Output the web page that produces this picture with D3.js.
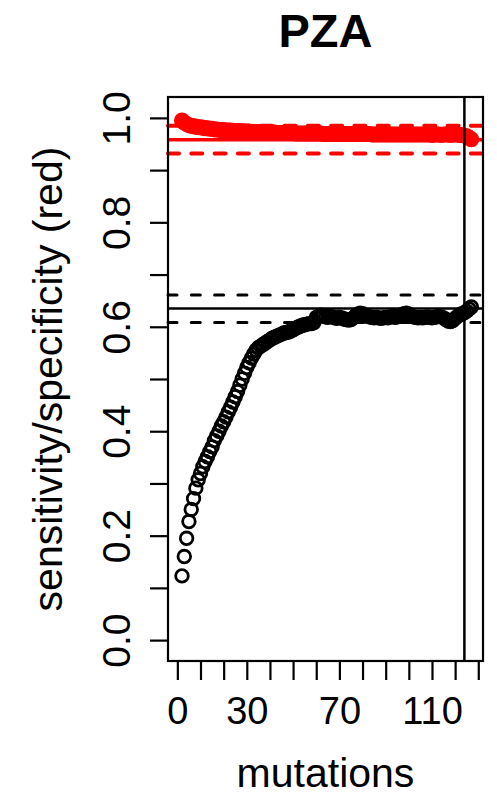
<!DOCTYPE html>
<html>
<head>
<meta charset="utf-8">
<script src="https://cdnjs.cloudflare.com/ajax/libs/d3/7.8.5/d3.min.js"></script>
<style>
  body { margin: 0; background: #fff; }
  svg { font-family: "Liberation Sans", Arial, sans-serif; }
</style>
</head>
<body>
<svg></svg>
<script>
// mutation counts on the x axis
const mutationCounts = d3.range(2, 128);

// sensitivity (black) for each count
const sensitivity = [
	0.123, 0.160, 0.195, 0.227, 0.250, 0.271, 0.291, 0.307, 0.319, 0.332,
	0.342, 0.351, 0.361, 0.370, 0.382, 0.391, 0.400, 0.410, 0.418,
	0.427, 0.437, 0.446, 0.456, 0.466, 0.476, 0.488, 0.500, 0.511, 0.522,
	0.531, 0.540, 0.548, 0.555, 0.560,
	0.563, 0.566, 0.569, 0.572, 0.575, 0.578, 0.580, 0.582, 0.584, 0.586,
	0.588, 0.589, 0.590, 0.592, 0.594, 0.597, 0.599, 0.601, 0.603, 0.604,
	0.605, 0.606, 0.606, 0.608, 0.618,
	0.620, 0.622, 0.621, 0.619, 0.618, 0.620, 0.619, 0.617, 0.616, 0.618,
	0.617, 0.615, 0.614, 0.613, 0.614, 0.617, 0.621, 0.624, 0.626, 0.625,
	0.622, 0.620, 0.619, 0.618, 0.617, 0.618, 0.617, 0.616, 0.617, 0.618,
	0.617, 0.619, 0.620, 0.618, 0.619, 0.621, 0.623, 0.625, 0.626, 0.624,
	0.621, 0.619, 0.618, 0.617, 0.618, 0.617, 0.618, 0.619, 0.618, 0.617,
	0.618, 0.619, 0.620, 0.619, 0.617, 0.614, 0.611, 0.610, 0.612, 0.616,
	0.620, 0.623, 0.625, 0.627, 0.630, 0.634, 0.638
];

// specificity (red) for each count
const specificity = [
	0.995, 0.991, 0.988, 0.986, 0.985, 0.984, 0.983, 0.982, 0.982, 0.981,
	0.980, 0.980, 0.979, 0.979, 0.978, 0.978, 0.977, 0.977, 0.977,
	0.976, 0.976, 0.976, 0.975, 0.975, 0.975, 0.975, 0.974, 0.974, 0.974,
	0.974, 0.973, 0.973, 0.973, 0.973, 0.973, 0.972, 0.972, 0.972, 0.972,
	0.972, 0.972, 0.971, 0.971, 0.971, 0.971, 0.971, 0.971, 0.971, 0.971,
	0.970, 0.970, 0.970, 0.970, 0.970, 0.970, 0.970, 0.970, 0.970, 0.970,
	0.970, 0.970, 0.969, 0.969, 0.969, 0.969, 0.969, 0.969, 0.969, 0.969,
	0.969, 0.969, 0.969, 0.969, 0.969, 0.969, 0.969, 0.969, 0.969, 0.969,
	0.969, 0.969, 0.969, 0.968, 0.968, 0.968, 0.968, 0.968, 0.968, 0.968,
	0.968, 0.968, 0.968, 0.968, 0.968, 0.968, 0.968, 0.968, 0.968, 0.968,
	0.968, 0.968, 0.968, 0.968, 0.968, 0.968, 0.968, 0.968, 0.968, 0.967,
	0.968, 0.968, 0.968, 0.967, 0.968, 0.968, 0.968, 0.967, 0.968, 0.968,
	0.968, 0.967, 0.967, 0.966, 0.965, 0.962, 0.959
];

// reference lines: estimate and interval
const sensLines = { mid: 0.635, lo: 0.608, hi: 0.661 };
const specLines = { mid: 0.958, lo: 0.932, hi: 0.985 };
const cutoff = 124;

const xTicks = d3.range(0, 131, 10);
const xTickLabels = [0, 30, 70, 110];
const yTicks = d3.range(0, 1.01, 0.1);
const yTickLabels = [0, 0.2, 0.4, 0.6, 0.8, 1.0];

const width = 497;
const height = 801;
const box = { left: 168, right: 483, top: 97, bottom: 661 };

const svg = d3.select('svg')
	.attr('width', width)
	.attr('height', height);

const xPad = 0.04 * (127 - 1);
const xScale = d3.scaleLinear()
	.domain([1 - xPad, 127 + xPad])
	.range([box.left, box.right]);

const yScale = d3.scaleLinear()
	.domain([-0.04, 1.04])
	.range([box.bottom, box.top]);

const sensData = mutationCounts.map((m, i) => ({ x: m, y: sensitivity[i] }));
const specData = mutationCounts.map((m, i) => ({ x: m, y: specificity[i] }));

// points
svg.append('g')
	.selectAll('circle')
	.data(specData)
	.join('circle')
	.attr('cx', d => xScale(d.x))
	.attr('cy', d => yScale(d.y))
	.attr('r', 8)
	.attr('fill', '#ff0000');

svg.append('g')
	.selectAll('circle')
	.data(sensData)
	.join('circle')
	.attr('cx', d => xScale(d.x))
	.attr('cy', d => yScale(d.y))
	.attr('r', 6.3)
	.attr('fill', 'none')
	.attr('stroke', '#000')
	.attr('stroke-width', 2.8);

// horizontal reference lines
function hline(v, color, dashed, w) {
	svg.append('line')
		.attr('x1', box.left).attr('x2', box.right)
		.attr('y1', yScale(v)).attr('y2', yScale(v))
		.attr('stroke', color)
		.attr('stroke-width', w)
		.attr('stroke-linecap', dashed ? 'round' : 'butt')
		.attr('stroke-dasharray', dashed ? dashed : null);
}
hline(sensLines.mid, '#000', null, 2.5);
hline(sensLines.lo, '#000', '9,14.3', 3);
hline(sensLines.hi, '#000', '9,14.3', 3);
hline(specLines.mid, '#ff0000', null, 3.5);
hline(specLines.lo, '#ff0000', '11,12.3', 4);
hline(specLines.hi, '#ff0000', '11,12.3', 4);

svg.append('line')
	.attr('x1', xScale(cutoff)).attr('x2', xScale(cutoff))
	.attr('y1', box.top).attr('y2', box.bottom)
	.attr('stroke', '#000')
	.attr('stroke-width', 2.5);

// axes
const xAxis = d3.axisBottom(xScale)
	.tickValues(xTicks)
	.tickSize(19)
	.tickPadding(17)
	.tickFormat(d => xTickLabels.includes(d) ? d : '');

const xAxisGroup = svg.append('g')
	.attr('transform', `translate(0,${box.bottom})`)
	.call(xAxis);
xAxisGroup.select('.domain').remove();
xAxisGroup.selectAll('line').attr('stroke-width', 2.2);
xAxisGroup.selectAll('text')
	.attr('font-size', 38)
	.attr('font-family', '"Liberation Sans", Arial, sans-serif')
	.attr('fill', '#000');

const yAxis = d3.axisLeft(yScale)
	.tickValues(yTicks)
	.tickSize(18)
	.tickFormat(d => yTickLabels.some(v => Math.abs(v - d) < 1e-6) ? d3.format('.1f')(d) : '');

const yAxisGroup = svg.append('g')
	.attr('transform', `translate(${box.left},0)`)
	.call(yAxis);
yAxisGroup.select('.domain').remove();
yAxisGroup.selectAll('line').attr('stroke-width', 2.2);
yAxisGroup.selectAll('text')
	.attr('x', null)
	.attr('dy', null)
	.attr('text-anchor', 'middle')
	.attr('transform', 'translate(-38,0) rotate(-90)')
	.attr('font-size', 39)
	.attr('font-family', '"Liberation Sans", Arial, sans-serif')
	.attr('fill', '#000');

// box
svg.append('rect')
	.attr('x', box.left)
	.attr('y', box.top)
	.attr('width', box.right - box.left)
	.attr('height', box.bottom - box.top)
	.attr('fill', 'none')
	.attr('stroke', '#000')
	.attr('stroke-width', 2.2);

// titles
svg.append('text')
	.attr('x', (box.left + box.right) / 2)
	.attr('y', 47)
	.attr('text-anchor', 'middle')
	.attr('font-size', 47)
	.attr('font-weight', 'bold')
	.text('PZA');

svg.append('text')
	.attr('x', (box.left + box.right) / 2)
	.attr('y', 787)
	.attr('text-anchor', 'middle')
	.attr('font-size', 41)
	.text('mutations');

svg.append('text')
	.attr('transform', `translate(62,${(box.top + box.bottom) / 2}) rotate(-90)`)
	.attr('text-anchor', 'middle')
	.attr('font-size', 41)
	.text('sensitivity/specificity (red)');
</script>
</body>
</html>
